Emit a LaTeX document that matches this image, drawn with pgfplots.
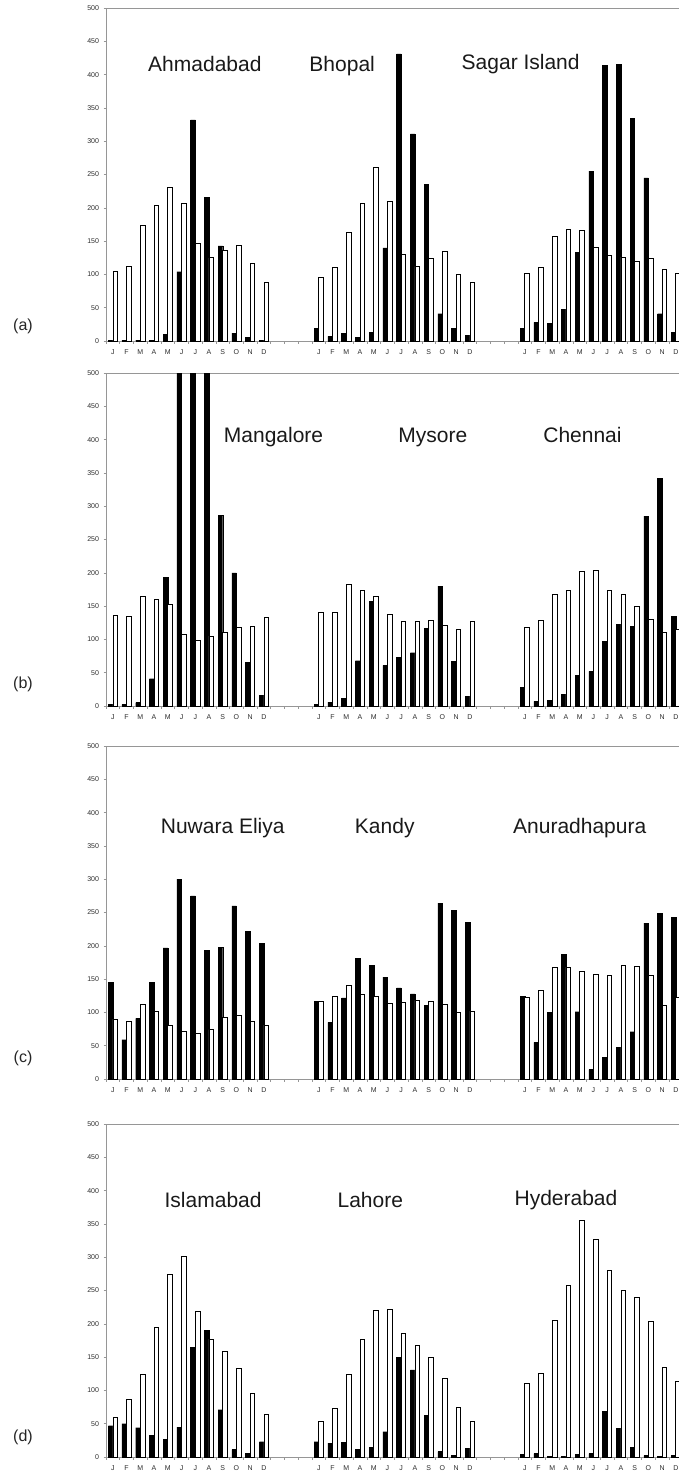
\documentclass[border=0pt]{standalone}
\usepackage{fontspec}
\setmainfont{Liberation Sans}
\usepackage{pgfplots}
\usepackage{pgfplotstable}
\pgfplotsset{compat=1.18}
\definecolor{axgray}{RGB}{150,150,150}
\definecolor{txtgray}{RGB}{45,45,45}

\pgfplotstableread{
x blk wht
0 1 105
1 1 112
2 1 174
3 1 204
4 10 231
5 104 207
6 332 147
7 216 125
8 143 136
9 12 144
10 6 116
11 1 88
15 19 95
16 7 111
17 12 163
18 5 206
19 13 260
20 140 210
21 431 130
22 311 112
23 235 124
24 41 134
25 19 100
26 9 88
30 19 101
31 28 111
32 27 157
33 48 167
34 133 166
35 255 140
36 414 129
37 415 126
38 334 120
39 245 124
40 41 108
41 13 102
}\panela

\pgfplotstableread{
x blk wht
0 3 136
1 2 135
2 5 164
3 41 160
4 193 152
5 950 108
6 1100 99
7 700 105
8 286 111
9 200 118
10 66 120
11 16 133
15 2 140
16 6 141
17 12 183
18 68 174
19 157 164
20 61 138
21 73 127
22 80 127
23 117 129
24 180 121
25 67 115
26 15 127
30 28 118
31 7 129
32 9 167
33 17 174
34 46 202
35 52 204
36 97 174
37 123 167
38 120 150
39 285 130
40 342 111
41 135 115
}\panelb

\pgfplotstableread{
x blk wht
0 145 90
1 59 87
2 91 112
3 145 102
4 197 81
5 300 72
6 275 68
7 193 74
8 198 93
9 260 96
10 222 87
11 204 81
15 117 116
16 85 124
17 122 140
18 181 127
19 171 124
20 153 114
21 137 115
22 128 118
23 111 117
24 264 112
25 253 100
26 235 102
30 124 122
31 55 133
32 100 168
33 187 168
34 101 162
35 14 157
36 33 155
37 48 170
38 71 169
39 234 156
40 249 111
41 243 122
}\panelc

\pgfplotstableread{
x blk wht
0 47 59
1 50 87
2 44 124
3 33 195
4 27 275
5 45 302
6 165 219
7 190 177
8 71 159
9 11 133
10 6 96
11 23 64
15 23 53
16 21 73
17 22 124
18 12 176
19 14 220
20 38 222
21 150 186
22 131 167
23 63 150
24 8 118
25 2 75
26 13 53
30 4 111
31 5 125
32 1 205
33 1 258
34 4 356
35 5 327
36 69 281
37 43 250
38 14 240
39 2 204
40 1 134
41 2 114
}\paneld

\pgfplotsset{panel/.style={
  scale only axis, width=576.7pt, height=333pt,
  anchor=south west,
  xmin=-0.5, xmax=41.5, ymin=0, ymax=500,
  ytick={0,50,...,500},
  xtick={-0.5,0.5,...,41.5},
  x tick label as interval,
  xticklabels={J,F,M,A,M,J,J,A,S,O,N,D,{},{},{},J,F,M,A,M,J,J,A,S,O,N,D,{},{},{},J,F,M,A,M,J,J,A,S,O,N,D},
  major tick length=2.5pt,
  tick align=outside,
  tick pos=left,
  tick style={axgray, line width=0.6pt},
  axis line style={axgray, line width=0.8pt},
  ybar=0pt, bar width=4.6pt,
  tick label style={font=\fontsize{7}{8}\selectfont, text=txtgray},
  /pgf/number format/assume math mode=true,
  xticklabel style={yshift=-3pt},
  yticklabel style={xshift=-1pt},
}}
\tikzset{
  blackbar/.style={fill=black, draw=black, line width=0.4pt},
  whitebar/.style={fill=white, draw=black, line width=0.7pt},
  city/.style={font=\fontsize{21}{24}\selectfont, text=black!90, anchor=base},
}

\begin{document}
\begin{tikzpicture}
\path[use as bounding box] (0,0) rectangle (679pt,-1475pt);

\begin{axis}[panel, at={(106pt,-341pt)}]
\addplot[blackbar] table[x=x,y=blk]{\panela};
\addplot[whitebar] table[x=x,y=wht]{\panela};
\node[city] at (axis cs:6.7,404) {Ahmadabad};
\node[city] at (axis cs:16.7,404) {Bhopal};
\node[city] at (axis cs:29.7,407) {Sagar Island};
\end{axis}

\begin{axis}[panel, at={(106pt,-706pt)}]
\addplot[blackbar] table[x=x,y=blk]{\panelb};
\addplot[whitebar] table[x=x,y=wht]{\panelb};
\node[city] at (axis cs:11.7,396) {Mangalore};
\node[city] at (axis cs:23.3,396) {Mysore};
\node[city] at (axis cs:34.2,396) {Chennai};
\end{axis}

\begin{axis}[panel, at={(106pt,-1079pt)}]
\addplot[blackbar] table[x=x,y=blk]{\panelc};
\addplot[whitebar] table[x=x,y=wht]{\panelc};
\node[city] at (axis cs:8.0,369) {Nuwara Eliya};
\node[city] at (axis cs:19.8,369) {Kandy};
\node[city] at (axis cs:34.0,369) {Anuradhapura};
\end{axis}

\begin{axis}[panel, at={(106pt,-1457pt)}]
\addplot[blackbar] table[x=x,y=blk]{\paneld};
\addplot[whitebar] table[x=x,y=wht]{\paneld};
\node[city] at (axis cs:7.3,375) {Islamabad};
\node[city] at (axis cs:18.75,375) {Lahore};
\node[city] at (axis cs:33.0,377) {Hyderabad};
\end{axis}

\node[font=\fontsize{16}{18}\selectfont, text=black!85] at (23pt,-326pt) {(a)};
\node[font=\fontsize{16}{18}\selectfont, text=black!85] at (23pt,-684pt) {(b)};
\node[font=\fontsize{16}{18}\selectfont, text=black!85] at (23pt,-1058pt) {(c)};
\node[font=\fontsize{16}{18}\selectfont, text=black!85] at (23pt,-1437pt) {(d)};
\end{tikzpicture}
\end{document}
